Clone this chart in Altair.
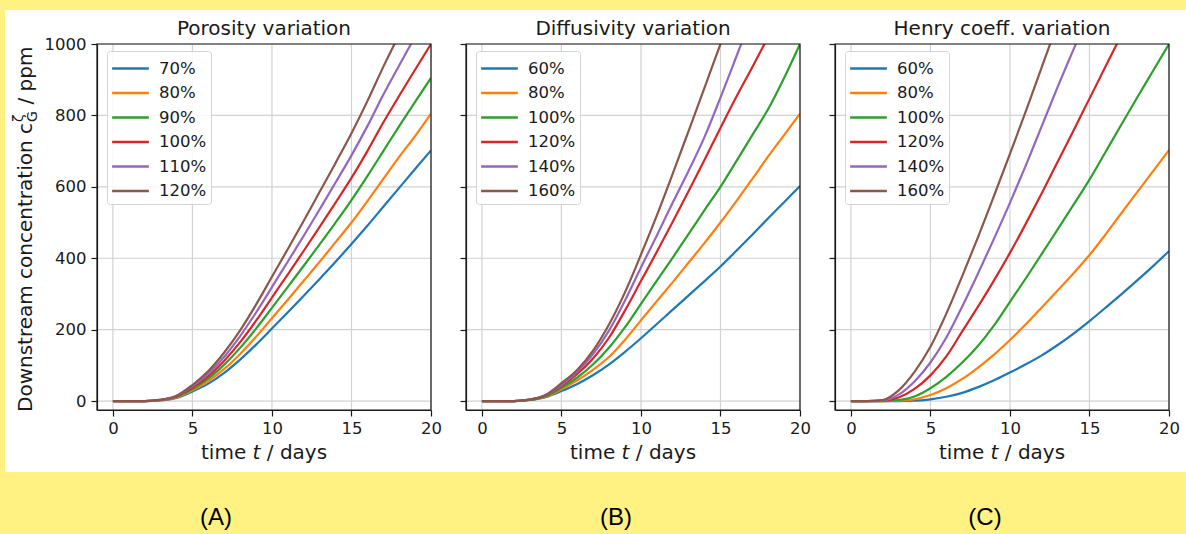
import altair as alt
import pandas as pd

# ---------------- data ----------------
T = list(range(21))  # days 0..20

A_LABELS = ["70%", "80%", "90%", "100%", "110%", "120%"]
A_70 = [0, 0, 0, 2, 9, 27, 49, 79, 116, 158, 203, 249, 295, 342, 390, 440, 491, 544, 597, 650, 702]
A_80 = [0, 0, 0, 2, 10, 30, 56, 90, 132, 180, 232, 284, 337, 390, 445, 500, 560, 622, 684, 742, 805]
A_90 = [0, 0, 0, 3, 12, 34, 63, 102, 149, 203, 261, 320, 379, 439, 500, 563, 630, 700, 770, 838, 905]
A_100 = [0, 0, 0, 3, 13, 38, 70, 113, 165, 225, 290, 355, 421, 488, 556, 625, 700, 780, 855, 928, 1000]
A_110 = [0, 0, 0, 3, 14, 42, 77, 124, 182, 248, 319, 391, 463, 537, 612, 688, 770, 858, 940, 1021, 1100]
A_120 = [0, 0, 0, 4, 15, 45, 84, 136, 198, 270, 348, 426, 505, 586, 667, 750, 840, 936, 1026, 1114, 1200]

B_LABELS = ["60%", "80%", "100%", "120%", "140%", "160%"]
B_60 = [0, 0, 0, 3, 11, 28, 48, 73, 103, 138, 176, 216, 256, 296, 336, 377, 421, 466, 512, 557, 602]
B_80 = [0, 0, 0, 3, 12, 33, 58, 88, 124, 172, 226, 280, 333, 388, 443, 500, 560, 622, 685, 745, 805]
B_100 = [0, 0, 0, 3, 13, 37, 66, 103, 150, 207, 272, 337, 402, 468, 535, 600, 672, 745, 818, 905, 1000]
B_120 = [0, 0, 0, 4, 15, 42, 76, 120, 178, 254, 336, 418, 502, 588, 676, 765, 852, 935, 1020, 1105, 1190]
B_140 = [0, 0, 0, 4, 16, 45, 82, 132, 198, 282, 374, 464, 556, 645, 740, 850, 965, 1080, 1195, 1310, 1425]
B_160 = [0, 0, 0, 4, 17, 50, 88, 142, 215, 305, 410, 520, 637, 757, 878, 1000, 1120, 1240, 1360, 1480, 1600]

C_LABELS = ["60%", "80%", "100%", "120%", "140%", "160%"]
C_60 = [0, 0, 0, 0, 1, 5, 12, 23, 39, 58, 80, 103, 128, 157, 189, 224, 261, 299, 338, 378, 420]
C_80 = [0, 0, 0, 1, 5, 17, 36, 62, 94, 130, 171, 215, 262, 310, 358, 409, 466, 526, 585, 644, 703]
C_100 = [0, 0, 0, 3, 13, 36, 68, 108, 155, 212, 278, 344, 412, 481, 550, 620, 697, 774, 850, 925, 1000]
C_120 = [0, 0, 1, 10, 34, 72, 125, 195, 265, 338, 415, 497, 582, 670, 758, 847, 936, 1025, 1115, 1205, 1295]
C_140 = [0, 0, 1, 18, 55, 108, 178, 265, 358, 455, 555, 660, 770, 880, 985, 1090, 1195, 1300, 1400, 1500, 1600]
C_160 = [0, 0, 3, 30, 82, 152, 245, 350, 460, 575, 692, 812, 935, 1058, 1180, 1300, 1420, 1540, 1660, 1780, 1900]

PANEL_TITLES = ["Porosity variation", "Diffusivity variation", "Henry coeff. variation"]
PANEL_TAGS = ["(A)", "(B)", "(C)"]
X_TICKS = [0, 5, 10, 15, 20]
Y_TICKS = [0, 200, 400, 600, 800, 1000]
COLORS = ["#1f77b4", "#ff7f0e", "#2ca02c", "#d62728", "#9467bd", "#8c564b"]

# ---------------- styling ----------------
W, H = 334, 366
FONT = "DejaVu Sans"
INK = "#1a1a1a"
YELLOW = "#FFF283"
GRID = "#d2d2d2"

xscale = alt.Scale(domain=[-1, 20], nice=False, zero=False)
yscale = alt.Scale(domain=[-25, 1000], nice=False, zero=False)
ONE = pd.DataFrame({"k": [0]})


def long_df(labels, series):
    rows = []
    for lab, vals in zip(labels, series):
        for t, v in zip(T, vals):
            rows.append({"t": t, "v": v, "s": lab})
    return pd.DataFrame(rows)


def txt(text, x, y, size=20, angle=0, align="left", style="normal", font=FONT, color=INK):
    return alt.Chart(ONE).mark_text(
        text=text, fontSize=size, angle=angle, align=align, baseline="alphabetic",
        fontStyle=style, font=font, color=color,
    ).encode(x=alt.value(x), y=alt.value(y))


def panel(i, labels, series):
    first = i == 0
    xaxis = alt.Axis(values=X_TICKS, title=None, grid=False, format="d", labelFlush=False,
                     labelFontSize=16.5, labelFont=FONT, labelColor=INK, labelPadding=4,
                     tickSize=6, tickWidth=1.2, tickColor=INK, domainColor=INK, domainWidth=1.2,
                     zindex=1)
    yaxis = alt.Axis(values=Y_TICKS, title=None, grid=False, format="d", labels=first,
                     labelFontSize=16.5, labelFont=FONT, labelColor=INK, labelPadding=5,
                     tickSize=6, tickWidth=1.2, tickColor=INK, domainColor=INK, domainWidth=1.2,
                     zindex=1)
    X = alt.X("t:Q", scale=xscale, axis=xaxis)
    Y = alt.Y("v:Q", scale=yscale, axis=yaxis)

    layers = []
    if first:
        layers.append(alt.Chart(ONE).mark_rect(color=YELLOW).encode(
            x=alt.value(-97), x2=alt.value(1089), y=alt.value(-44), y2=alt.value(490)))
        layers.append(alt.Chart(ONE).mark_rect(color="white").encode(
            x=alt.value(-92), x2=alt.value(1089), y=alt.value(-34), y2=alt.value(428)))

    layers.append(alt.Chart(pd.DataFrame({"t": X_TICKS})).mark_rule(
        color=GRID, strokeWidth=1.2).encode(x=alt.X("t:Q", scale=xscale, axis=xaxis)))
    layers.append(alt.Chart(pd.DataFrame({"v": Y_TICKS})).mark_rule(
        color=GRID, strokeWidth=1.2).encode(y=alt.Y("v:Q", scale=yscale, axis=yaxis)))

    lines = alt.Chart(long_df(labels, series)).mark_line(
        clip=True, strokeWidth=2.2, interpolate="monotone").encode(
        x=X, y=Y,
        color=alt.Color("s:N", sort=labels,
                        scale=alt.Scale(domain=labels, range=COLORS),
                        legend=alt.Legend(
                            title=None, orient="none", legendX=10, legendY=7,
                            symbolType="M-1.5,0H1.5", symbolSize=600, symbolStrokeWidth=2.5,
                            symbolOffset=6, labelOffset=15,
                            labelFontSize=16.5, labelFont=FONT, labelColor=INK,
                            padding=4, rowPadding=2.5,
                            strokeColor="#d4d4d4", fillColor="rgba(255,255,255,0.85)",
                            cornerRadius=3, zindex=1)),
        order=alt.Order("t:Q"))
    layers.append(lines)

    # frame (spines)
    layers.append(alt.Chart(ONE).mark_rect(fillOpacity=0, stroke=INK, strokeWidth=1.2).encode(
        x=alt.value(0), x2=alt.value(W), y=alt.value(0), y2=alt.value(H)))

    # panel title
    layers.append(txt(PANEL_TITLES[i], W / 2, -9, align="center"))

    # x axis title: time t / days  (t in italics)
    layers.append(txt("time", 104, 415))
    layers.append(txt("t", 155.6, 415, style="italic"))
    layers.append(txt("/ days", 169.8, 415))

    if first:
        # y axis title: Downstream concentration c_G^zeta / ppm
        layers.append(txt("Downstream concentration c", -65, 368, angle=270))
        layers.append(txt("\u03b6", -74, 78, size=14, angle=270))
        layers.append(txt("G", -60, 78, size=14, angle=270))
        layers.append(txt("/ ppm", -65, 60.6, angle=270))

    tag_x = [119, 150, 150][i]
    layers.append(txt(PANEL_TAGS[i], tag_x, 481, size=24, align="center",
                      font="Liberation Sans", color="#000000"))

    return alt.layer(*layers).properties(width=W, height=H).resolve_scale(color="independent")


chart = alt.hconcat(
    panel(0, A_LABELS, [A_70, A_80, A_90, A_100, A_110, A_120]),
    panel(1, B_LABELS, [B_60, B_80, B_100, B_120, B_140, B_160]),
    panel(2, C_LABELS, [C_60, C_80, C_100, C_120, C_140, C_160]),
    spacing=35, bounds="flush",
).resolve_scale(color="independent").properties(padding=0).configure(
    background=YELLOW, font=FONT
).configure_view(stroke=None)

chart.save("out.html", embed_options={"renderer": "svg", "actions": False})
